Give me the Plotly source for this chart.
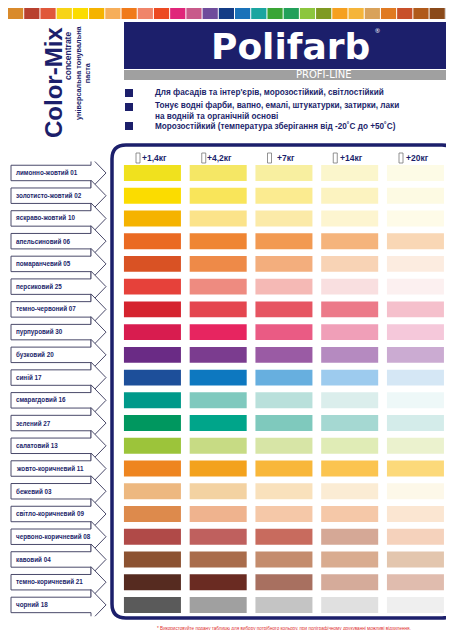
import plotly.graph_objects as go

W, H = 454, 630
names = ["лимонно-жовтий 01","золотисто-жовтий 02","яскраво-жовтий 10","апельсиновий 06",
         "помаранчевий 05","персиковий 25","темно-червоний 07","пурпуровий 30","бузковий 20",
         "синій 17","смарагдовий 16","зелений 27","салатовий 13","жовто-коричневий 11",
         "бежевий 03","світло-коричневий 09","червоно-коричневий 08","кавовий 04",
         "темно-коричневий 21","чорний 18"]
doses = ["+1,4кг","+4,2кг","+7кг","+14кг","+20кг"]
col1 = ["#f0e11e","#fbdc00","#f5b300","#ea6a22","#d95224","#e6413a","#d5232e","#d81c4f","#6a2b85","#1d4f9a",
        "#00998a","#00975f","#9cc43a","#ee8520","#edb880","#dd8a4c","#b04a48","#8c5231","#562b20","#5a5a5a"]
col2 = ["#f5e765","#f9e55a","#fbe38a","#ef8533","#ee8a48","#ee8b80","#e4464f","#e72560","#7b3c8f","#0d78c0",
        "#7fc9be","#00a58a","#c7db84","#f3a21d","#f3d2a2","#efb38e","#bf605e","#a96c4b","#6a2b22","#a0a0a0"]
col3 = ["#f8efa0","#fbeb90","#fbeaa8","#f29a52","#f3ae7d","#f5b9b5","#e65562","#ea5b84","#9a5ba4","#67afdf",
        "#b9e0db","#7fc9bd","#d7e5a6","#f8b73a","#f9e1bc","#f5c8a8","#c86b5e","#c48c6d","#a87060","#c4c4c4"]
col4 = ["#fbf6cc","#fcf3c0","#fdf5d0","#f5b47c","#f8d3b5","#f9dfe0","#ec7a89","#f09fb8","#b58ac0","#9dcbee",
        "#dbeeec","#a5d8d2","#e0ecb6","#fbc44f","#fbecd4","#f5c8a8","#d5a896","#d9ac90","#d5ab9a","#e0e0e0"]
col5 = ["#fdfbe6","#fdfae3","#fefbe8","#f9d7b5","#fcece0","#fcf0f0","#f5c0cc","#f5c8da","#cbabd2","#d5e7f5",
        "#eef8f8","#d4ecea","#ebf2ce","#fcd97a","#fdf8e9","#fbe6d2","#f5d2bc","#e3c6ae","#e0bcae","#efefef"]
columns = [col1, col2, col3, col4, col5]
strip = ["#d98a2b","#b8402e","#e0583a","#f7d417","#fbdc00","#f5b300","#f6ae5a","#f07a1a","#f0856a","#ec4a22",
         "#e0267a","#c85a8a","#6f4c9b","#143c86","#1a72b9","#1aa5a0","#3aa535","#22a05a","#8cc63e","#7f9a22",
         "#f5a020","#f5b53a","#d9a25a","#e07a22","#c8502a","#b05a1a","#8a4a1a","#4a3a30"]

NAVY = "#1c1f6b"
fig = go.Figure()
for i, c in enumerate(columns):
    fig.add_trace(go.Bar(orientation="h", y=list(range(len(names))), x=[0.867]*len(names),
                         base=[i + 0.066]*len(names), marker=dict(color=c, line=dict(width=0)),
                         hoverinfo="skip", showlegend=False))

shapes, ann = [], []
sw = W / len(strip)
for i, c in enumerate(strip):
    shapes.append(dict(type="rect", xref="paper", yref="paper", x0=i*sw/W, x1=(i+1)*sw/W - 1/W,
                       y0=1-11/H, y1=1, fillcolor=c, line=dict(width=0)))
shapes.append(dict(type="rect", xref="paper", yref="paper", x0=116/W, x1=449/W, y0=1-61/H, y1=1-14/H,
                   fillcolor=NAVY, line=dict(width=0)))
shapes.append(dict(type="rect", xref="paper", yref="paper", x0=116/W, x1=449/W, y0=1-72/H, y1=1-62/H,
                   fillcolor="#a0a0a0", line=dict(width=0)))
ann.append(dict(text="<b>Polifarb</b>", x=282/W, y=1-38/H, font=dict(size=36, color="white", family="Arial Black, DejaVu Sans")))
ann.append(dict(text="®", x=369/W, y=1-23/H, font=dict(size=6, color="white")))
ann.append(dict(text="PROFI-LINE", x=315/W, y=1-67/H, font=dict(size=10, color="white", family="DejaVu Sans")))
bul = [(85, "Для фасадів та інтер'єрів, морозостійкий, світлостійкий"),
       (103, "Тонує водні фарби, вапно, емалі, штукатурки, затирки, лаки<br>на водній та органічній основі"),
       (118, "Морозостійкий (температура зберігання від -20˚С до +50˚С)")]
for yb in [85, 99, 118]:
    shapes.append(dict(type="rect", xref="paper", yref="paper", x0=117/W, x1=125/W, y0=1-(yb+4)/H, y1=1-(yb-4)/H,
                       fillcolor=NAVY, line=dict(width=0)))
for yt, t in bul:
    ann.append(dict(text="<b>"+t+"</b>", x=145/W, y=1-yt/H, xanchor="left", align="left",
                    font=dict(size=8.2, color=NAVY, family="Liberation Sans")))
ann.append(dict(text="<b>Color-Mix</b>", x=45/W, y=1-75/H, textangle=-90, font=dict(size=24, color=NAVY, family="Liberation Sans")))
ann.append(dict(text="<b>concentrate</b>", x=60/W, y=1-48/H, textangle=-90, font=dict(size=8.5, color=NAVY, family="Liberation Sans")))
ann.append(dict(text="<b>універсальна тонувальна<br>паста</b>", x=75/W, y=1-65/H, textangle=-90, font=dict(size=7.3, color=NAVY, family="Liberation Sans")))
x0, x1, y0, y1, r = 104/W, 448/W, 1-610/H, 1-137/H, 14
rx, ry = r/W, r/H
path = (f"M {x0+rx},{y1} L {x1-rx},{y1} Q {x1},{y1} {x1},{y1-ry} L {x1},{y0+ry} Q {x1},{y0} {x1-rx},{y0} "
        f"L {x0+rx},{y0} Q {x0},{y0} {x0},{y0+ry} L {x0},{y1-ry} Q {x0},{y1} {x0+rx},{y1} Z")
shapes.append(dict(type="path", xref="paper", yref="paper", path=path, line=dict(color=NAVY, width=3.5), fillcolor="rgba(0,0,0,0)"))
for i, d in enumerate(doses):
    ann.append(dict(text="<b>"+d+"</b>", x=(116+i*65.75+30)/W, y=1-150/H, font=dict(size=8.5, color=NAVY, family="Liberation Sans")))
    bx = (116+i*65.75+12)/W
    shapes.append(dict(type="rect", xref="paper", yref="paper", x0=bx, x1=bx+4/W, y0=1-155/H, y1=1-145/H,
                       line=dict(color="#777", width=0.8), fillcolor="white"))
a0, a1, a2 = 3/W, 83/W, 98/W
for k, n in enumerate(names):
    p = (f"M {a0},{k-0.34} L {a1},{k-0.34} L {a1},{k-0.68} L {a2},{k} L {a1},{k+0.68} L {a1},{k+0.34} L {a0},{k+0.34} Z")
    shapes.append(dict(type="path", xref="paper", yref="y", path=p, fillcolor="white", line=dict(color="#4a4a6a", width=1)))
    ann.append(dict(text="<b>"+n+"</b>", x=6/W, y=k, yref="y", xanchor="left",
                    font=dict(size=6.3, color=NAVY, family="Liberation Sans")))
ann.append(dict(text="* Використовуйте подану таблицю для вибору потрібного кольору, при поліграфічному друкуванні можливі відхилення.",
                x=276/W, y=1-620/H, font=dict(size=4.6, color="#e03030", family="Liberation Sans")))
for a in ann:
    a.setdefault("xref", "paper"); a.setdefault("yref", "paper"); a["showarrow"] = False
    a.setdefault("xanchor", "center"); a["yanchor"] = "middle"
fig.update_layout(width=W, height=H, margin=dict(l=0, r=0, t=0, b=0), paper_bgcolor="white", plot_bgcolor="white",
                  barmode="overlay", bargap=0.3, shapes=shapes, annotations=ann,
                  xaxis=dict(domain=[111.6/W, 440.35/W], range=[0, 5], visible=False, fixedrange=True),
                  yaxis=dict(domain=[1-608.3/H, 1-153.6/H], range=[19.5, -0.5], visible=False, fixedrange=True))
fig.write_html("out.html", config={"displayModeBar": False})
